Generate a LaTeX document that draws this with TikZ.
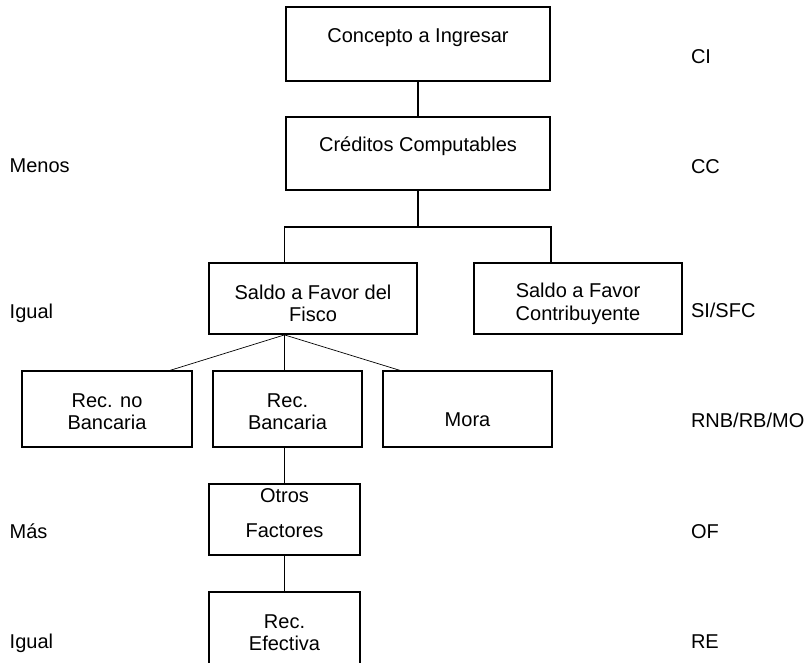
\documentclass[tikz,border=0pt]{standalone}
\usepackage{fontspec}
\setmainfont{Liberation Sans}
\begin{document}
\begin{tikzpicture}[x=1pt,y=-1pt,
  every node/.style={font=\fontsize{20}{22.5}\selectfont},
  box/.style={draw, line width=1.8pt, inner sep=0pt},
  txt/.style={inner sep=0pt, align=center},
  side/.style={inner sep=0pt, anchor=base west},
  conn/.style={line width=1.8pt},
  diag/.style={line width=0.7pt}]
\clip (0,0) rectangle (811,662);
% boxes
\node[box, minimum width=264pt, minimum height=74pt,
  label={[txt,yshift=6pt]center:Concepto a Ingresar}] (ci) at (418,44) {};
\node[box, minimum width=264pt, minimum height=73pt,
  label={[txt,yshift=7.5pt]center:Créditos Computables}] (cc) at (418,153.5) {};
\node[box, minimum width=208pt, minimum height=71pt,
  label={[txt,yshift=-5pt]center:Saldo a Favor del\\Fisco}] (sf) at (313,298.5) {};
\node[box, minimum width=208pt, minimum height=71pt,
  label={[txt,yshift=-5.5pt]center:Saldo a Favor\\Contribuyente}] (sc) at (578,298.5) {};
\node[box, minimum width=170pt, minimum height=76pt,
  label={[txt,yshift=-2.5pt]center:Rec. no\\Bancaria}] (rnb) at (107,409) {};
\node[box, minimum width=149pt, minimum height=76pt,
  label={[txt,yshift=-2.5pt]center:Rec.\\Bancaria}] (rb) at (287.5,409) {};
\node[box, minimum width=169pt, minimum height=76pt,
  label={[txt,yshift=-10.5pt]center:Mora}] (mo) at (467.5,409) {};
\node[box, minimum width=151pt, minimum height=71pt,
  label={[txt,yshift=6pt]center:Otros\\[12.5pt]Factores}] (of) at (284.5,519.5) {};
\node[box, minimum width=151pt, minimum height=88pt,
  label={[txt,yshift=3.5pt]center:Rec.\\Efectiva}] (re) at (284.5,636) {};
% connectors
\coordinate (j) at (418,227);
\coordinate (rnbin) at (168,371);
\coordinate (moin) at (402,371);
\draw[conn] (ci.south) -- (cc.north);
\draw[conn] (cc.south) -- (j);
\draw[conn] (of.north |- sf.north) |- (j) -| (ci.east |- sc.north);
\draw[diag] (of.north |- sf.south) -- (rnbin);
\draw[diag] (of.north |- sf.south) -- (moin);
\draw[conn] (of.north |- sf.south) -- (of.north |- rb.north);
\draw[conn] (of.north |- rb.south) -- (of.north);
\draw[conn] (of.south) -- (re.north);
% side labels
\node[side] (l1) at (9.5,172) {Menos};
\node[side] (l2) at (9.5,318) {Igual};
\node[side] (l3) at (9.5,538) {Más};
\node[side] (l4) at (9.5,648) {Igual};
\node[side] (r1) at (690.8,63) {CI};
\node[side] (r2) at (690.8,173) {CC};
\node[side] (r3) at (690.8,317) {SI/SFC};
\node[side] (r4) at (690.8,427) {RNB/RB/MO};
\node[side] (r5) at (690.8,538) {OF};
\node[side] (r6) at (690.8,648) {RE};
\end{tikzpicture}
\end{document}
